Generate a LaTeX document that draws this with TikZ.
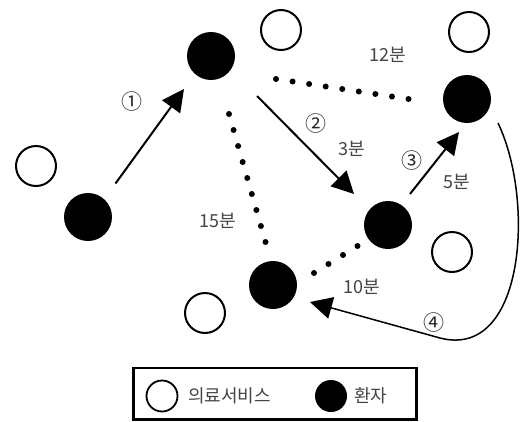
\documentclass[tikz,border=0pt]{standalone}
\usepackage{fontspec}
\setmainfont{Noto Sans CJK KR}
\usetikzlibrary{arrows.meta,calc}
\definecolor{labelgray}{HTML}{444444}
\begin{document}
\begin{tikzpicture}[x=1pt,y=-1pt,
  patient/.style={circle,fill=black,minimum size=48pt,inner sep=0pt},
  service/.style={circle,draw=black,line width=2pt,fill=white,minimum size=40pt,inner sep=0pt},
  head/.style={-{Triangle[length=22pt,width=22pt]}},
  move/.style={line width=2pt,head},
  lbl/.style={text=labelgray,font=\fontsize{18}{18}\selectfont,inner sep=0pt},
  num/.style={text=black!85,font=\fontsize{21}{21}\selectfont,inner sep=0pt},
  dotc/.style={fill=black}]
\useasboundingbox (0,0) rectangle (525,421);
% patients
\node[patient] (p1) at (88,217) {};
\node[patient] (p2) at (211,56) {};
\node[patient] (p3) at (467,99) {};
\node[patient] (p4) at (388,225) {};
\node[patient] (p5) at (273,285) {};
% services
\node[service] (s1) at (36,166) {};
\node[service] (s2) at (281,30) {};
\node[service] (s3) at (469,32) {};
\node[service] (s4) at (452,252) {};
\node[service] (s5) at (205,313) {};
% arrow endpoints
\coordinate (a1s) at (115.5,183.5);
\coordinate (a1e) at (184,89);
\coordinate (a2s) at (257,96);
\coordinate (a2e) at (354,194);
\coordinate (a3s) at (410,194);
\coordinate (a3e) at (459,132);
\coordinate (a4s) at (498,123);
\coordinate (a4m) at (440,338);
\coordinate (a4e) at (310,302);
\draw[move] (a1s) -- (a1e);
\draw[move] (a2s) -- (a2e);
\draw[move] (a3s) -- (a3e);
\draw[line width=1.5pt,head] (a4s) .. controls (535,200) and (525,360) .. (a4m) -- (a4e);
% dotted links
\coordinate (d1s) at (276,79);
\coordinate (d1e) at (408.5,99);
\coordinate (d2s) at (229,114);
\coordinate (d2e) at (265.5,242);
\coordinate (d3s) at (314,273);
\coordinate (d3e) at (357.5,246);
\foreach \t in {0,...,8} \fill[dotc] ($(d1s)!\t/8!(d1e)$) circle (3pt);
\foreach \t in {0,...,8} \fill[dotc] ($(d2s)!\t/8!(d2e)$) circle (3pt);
\foreach \t in {0,...,3} \fill[dotc] ($(d3s)!\t/3!(d3e)$) circle (3pt);
% labels
\node[num] (n1) at (132,102) {①};
\node[num] (n2) at (316,124) {②};
\node[num] (n3) at (412,161) {③};
\node[num] (n4) at (433.5,323) {④};
\node[lbl] (t12) at (388,55) {12분};
\node[lbl] (t3) at (351.5,149) {3분};
\node[lbl] (t5) at (457,182) {5분};
\node[lbl] (t15) at (217.5,221) {15분};
\node[lbl] (t10) at (361.5,287) {10분};
% legend
\draw[line width=2.7pt] (133.5,368) rectangle (416.7,419.5);
\node[circle,draw=black,line width=1.8pt,minimum size=31pt,inner sep=0pt] (ls) at (162,396) {};
\node[anchor=west,font=\fontsize{18}{18}\selectfont,text=labelgray,inner sep=0pt] (lst) at (188,396) {의료서비스};
\node[circle,fill=black,minimum size=32pt,inner sep=0pt] (lp) at (331,396) {};
\node[anchor=west,font=\fontsize{18}{18}\selectfont,text=labelgray,inner sep=0pt] (lpt) at (354,396) {환자};
\end{tikzpicture}
\end{document}
